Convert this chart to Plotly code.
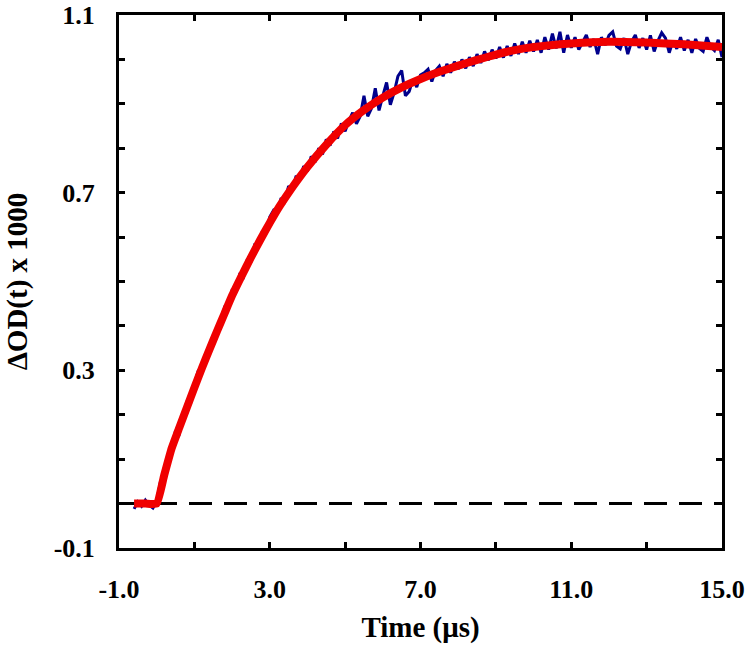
import numpy as np
import plotly.graph_objects as go

# ---- data ----
time_data = np.round(np.arange(-0.6, 15.05, 0.1), 1)
od_data = [
    -0.012, 0.004, -0.006, 0.008, -0.003, -0.010, 0.005,
    0.050, 0.052, 0.110, 0.112, 0.165, 0.158, 0.200, 0.228, 0.226, 0.270,
    0.298, 0.295, 0.338, 0.340, 0.378, 0.380, 0.400, 0.442, 0.440, 0.480,
    0.478, 0.515, 0.510, 0.548, 0.545, 0.582, 0.578, 0.612, 0.610, 0.645,
    0.660, 0.652, 0.688, 0.680, 0.715, 0.705, 0.738, 0.728, 0.760, 0.748,
    0.782, 0.768, 0.800, 0.786, 0.820, 0.806, 0.838, 0.822, 0.856, 0.838,
    0.862, 0.880, 0.855, 0.872, 0.918, 0.872, 0.890, 0.935, 0.885, 0.918,
    0.948, 0.898, 0.925, 0.962, 0.975, 0.918, 0.928, 0.955, 0.938, 0.965,
    0.970, 0.978, 0.950, 0.975, 0.985, 0.962, 0.990, 0.970, 0.995, 0.978,
    1.000, 0.980, 1.005, 0.985, 1.012, 0.992, 1.018, 0.998, 1.022, 1.002,
    1.028, 1.004, 1.030, 1.008, 1.036, 1.012, 1.040, 1.015, 1.042, 1.018,
    1.044, 1.015, 1.050, 1.022, 1.058, 1.025, 1.062, 1.015, 1.055, 1.026,
    1.050, 1.022, 1.038, 1.055, 1.028, 1.046, 1.012, 1.050, 1.032, 1.054,
    1.062, 1.030, 1.024, 1.048, 1.012, 1.040, 1.055, 1.026, 1.048, 1.022,
    1.054, 1.018, 1.042, 1.060, 1.048, 1.015, 1.042, 1.024, 1.050, 1.020,
    1.044, 1.015, 1.046, 1.025, 1.018, 1.050, 1.028, 1.020, 1.044, 1.005,
]

time_fit = [-0.6, -0.3, 0.0, 0.2, 0.4, 0.6, 0.8, 1.0, 1.2, 1.4, 1.6, 1.8, 2.0,
            2.25, 2.5, 2.75, 3.0, 3.25, 3.5, 3.75, 4.0, 4.5, 5.0, 5.5, 6.0,
            6.5, 7.0, 7.5, 8.0, 8.5, 9.0, 9.5, 10.0, 11.0, 12.0, 13.0, 14.0, 15.0]
od_fit = [0.0, 0.0, 0.0, 0.064, 0.125, 0.171, 0.216, 0.261, 0.305, 0.347,
          0.388, 0.428, 0.468, 0.512, 0.554, 0.594, 0.632, 0.668, 0.700,
          0.730, 0.758, 0.808, 0.852, 0.886, 0.914, 0.937, 0.956, 0.972,
          0.986, 0.999, 1.011, 1.021, 1.028, 1.036, 1.040, 1.038, 1.034, 1.028]

baseline_x = [-1.0, 15.0]
baseline_y = [0.0, 0.0]

x_tickvals = [-1, 3, 7, 11, 15]
x_ticktext = ["-1.0", "3.0", "7.0", "11.0", "15.0"]
y_tickvals = [-0.1, 0.3, 0.7, 1.1]
y_ticktext = ["-0.1", "0.3", "0.7", "1.1"]

FONT = "Liberation Serif, Times New Roman, serif"

fig = go.Figure()
fig.add_trace(go.Scatter(x=baseline_x, y=baseline_y, mode="lines",
                         line=dict(color="black", width=3, dash="23px,12px"),
                         hoverinfo="skip", showlegend=False))
fig.add_trace(go.Scatter(x=time_data, y=od_data, mode="lines",
                         line=dict(color="#00008C", width=3),
                         showlegend=False))
fig.add_trace(go.Scatter(x=time_fit, y=od_fit, mode="lines",
                         line=dict(color="#F00000", width=8, shape="spline",
                                   smoothing=0.4),
                         showlegend=False))

axis_common = dict(
    showgrid=False, zeroline=False, showline=True, linecolor="black",
    linewidth=3, mirror="ticks", ticks="inside", ticklen=6, tickwidth=2.5,
    tickcolor="black",
    tickfont=dict(family=FONT, size=26, color="black", weight="bold"),
)

fig.update_layout(
    width=750, height=662,
    margin=dict(l=119, r=28, t=15, b=114, autoexpand=False),
    paper_bgcolor="white", plot_bgcolor="white",
    xaxis=dict(
        range=[-1, 15], tickmode="array", tickvals=x_tickvals, ticktext=x_ticktext,
        minor=dict(tickmode="linear", tick0=-1, dtick=2, ticks="inside",
                   ticklen=6, tickwidth=2.5, tickcolor="black"),
        ticklabelstandoff=16,
        title=dict(text="Time (μs)", standoff=14,
                   font=dict(family=FONT, size=29, color="black", weight="bold")),
        **axis_common,
    ),
    yaxis=dict(
        range=[-0.1, 1.1], tickmode="array", tickvals=y_tickvals, ticktext=y_ticktext,
        minor=dict(tickmode="linear", tick0=-0.1, dtick=0.1, ticks="inside",
                   ticklen=6, tickwidth=2.5, tickcolor="black"),
        ticklabelstandoff=16,
        title=dict(text="ΔOD(t) x 1000", standoff=18,
                   font=dict(family=FONT, size=29, color="black", weight="bold")),
        **axis_common,
    ),
)

fig.write_html("out.html", config={"displayModeBar": False},
               post_script="document.body.style.margin='0';document.body.style.padding='0';")
